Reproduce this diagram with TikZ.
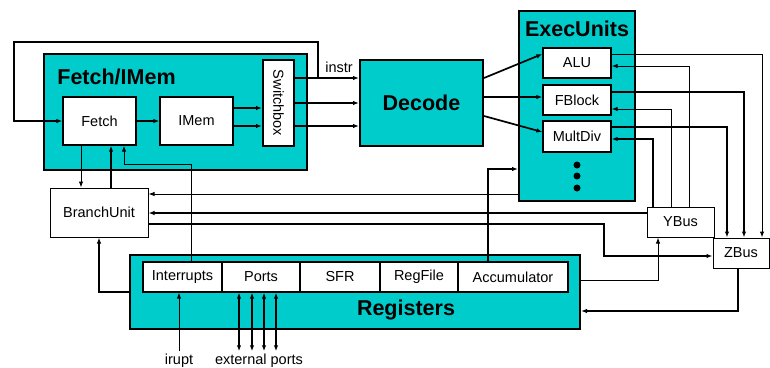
\documentclass[tikz,border=0pt]{standalone}
\usepackage{fontspec}
\setmainfont{Liberation Sans}
\usepackage{graphicx}
\usetikzlibrary{arrows.meta}
\definecolor{tealfill}{RGB}{0,204,204}
\newcommand{\lblfont}{\fontsize{14.5}{17}\selectfont}
\newcommand{\ttlfont}{\fontsize{21.5}{25}\selectfont\bfseries}

\begin{document}
\begin{tikzpicture}[x=1pt,y=-1pt,>={Latex[length=6pt,width=4.5pt]},
  group/.style={draw,line width=2pt,fill=tealfill,inner sep=0pt},
  unit/.style={draw,line width=1.3pt,fill=white,inner sep=0pt,font=\lblfont},
  bus/.style={draw,line width=1pt,fill=white,inner sep=0pt,font=\lblfont},
  fine/.style={line width=1pt},
  wide/.style={line width=1.7pt},
  lbl/.style={font=\lblfont,inner sep=2pt}]
\useasboundingbox (0,0) rectangle (770,367);

%Shape: Fetch/IMem [id:grp1]
\node[group,minimum width=263pt,minimum height=116pt] (fimem) at (175.5,112) {};
\node[font=\ttlfont,inner sep=0pt] (fimemt) at (116.5,77) {Fetch/IMem};
\node[unit,minimum width=73pt,minimum height=48pt] (fetch) at (99.5,121) {Fetch};
\node[unit,minimum width=73pt,minimum height=48pt] (imem) at (196.5,121) {IMem};
\node[unit,line width=2pt,minimum width=31pt,minimum height=86pt] (switch) at (278.5,103) {\rotatebox{-90}{Switchbox}};

%Shape: Decode [id:grp2]
\node[group,font=\ttlfont,minimum width=123pt,minimum height=86pt] (decode) at (421.5,103) {Decode};

%Shape: ExecUnits [id:grp3]
\node[group,minimum width=116pt,minimum height=190pt] (exec) at (577,106) {};
\node[font=\ttlfont,inner sep=0pt] (exect) at (577,28.5) {ExecUnits};
\node[unit,minimum width=68pt,minimum height=30pt] (alu) at (577,63) {ALU};
\node[unit,minimum width=68pt,minimum height=30pt] (fblock) at (577,100) {FBlock};
\node[unit,minimum width=68pt,minimum height=31pt] (multdiv) at (577,136.5) {MultDiv};
\foreach \y in {165,176,188} \fill (577,\y) circle (3.5pt);

%Shape: Registers [id:grp4]
\node[group,minimum width=450pt,minimum height=74pt] (regs) at (355,292) {};
\node[font=\ttlfont,inner sep=0pt] (regst) at (406,310) {Registers};
\node[unit,minimum width=79pt,minimum height=30pt] (intr) at (182.5,277) {Interrupts};
\node[unit,minimum width=78pt,minimum height=30pt] (ports) at (261,277) {Ports};
\node[unit,minimum width=80pt,minimum height=30pt] (sfr) at (340,277) {SFR};
\node[unit,minimum width=78pt,minimum height=30pt] (regfile) at (419,277) {RegFile};
\node[unit,minimum width=110pt,minimum height=30pt] (acc) at (513,277) {Accumulator};

%Shape: BranchUnit and buses
\node[bus,minimum width=98pt,minimum height=49pt] (branch) at (99,212.5) {BranchUnit};
\node[bus,minimum width=67pt,minimum height=30pt] (ybus) at (680.5,222) {YBus};
\node[bus,minimum width=56pt,minimum height=30pt] (zbus) at (741,253) {ZBus};

% Text Node
\node[lbl] (instr) at (339,67) {instr};
\node[lbl,anchor=base] (irupt) at (179,364) {irupt};
\node[lbl,anchor=base] (ext) at (259,364) {external ports};

%Straight Lines: fetch path
\draw[wide,->] (fetch) -- (imem);
\draw[wide,->] (imem.east |- 0,108) -- (switch.west |- 0,108);
\draw[wide,->] (imem.east |- 0,126) -- (switch.west |- 0,126);
\draw[wide,->] (switch.east |- 0,78) -- (decode.west |- 0,78);
\draw[wide,->] (switch) -- (decode);
\draw[wide,->] (switch.east |- 0,126) -- (decode.west |- 0,126);
\coordinate (loop) at (318,78);
\draw[wide,->] (loop) |- (14,42) |- (fetch.west);

%Straight Lines: decode to units
\draw[wide,->] (decode.east |- 0,78) -- (alu.west |- 0,54);
\draw[wide,->] (decode.east |- 0,97) -- (fblock.west |- 0,97);
\draw[wide,->] (decode.east |- 0,116) -- (multdiv.west |- 0,132);

%Straight Lines: units to buses
\draw[fine,->] (alu.east |- 0,54) -| (zbus.north -| 762,0);
\draw[wide,->] (fblock.east |- 0,92) -| (zbus.north -| 744,0);
\draw[wide,->] (multdiv.east |- 0,127) -| (zbus.north -| 727,0);
\draw[fine,->] (ybus.north -| 689,0) |- (alu.east |- 0,66);
\draw[fine,->] (ybus.north -| 671,0) |- (fblock.east |- 0,109);
\draw[wide,->] (ybus.north -| 653,0) |- (multdiv.east |- 0,139);

%Straight Lines: branch unit
\draw[fine,->] (fetch.south -| 81,0) -- (branch.north -| 81,0);
\draw[wide,->] (branch.north -| 111,0) -- (fetch.south -| 111,0);
\draw[fine,->] (intr.north -| 191,0) |- (124,164) -- (fetch.south -| 124,0);
\draw[fine,->] (exec.west |- 0,194) -- (branch.east |- 0,194);
\draw[wide,->] (ybus.west |- 0,213) -- (branch.east |- 0,213);
\draw[wide,->] (branch.east |- 0,224) -| (604,256) -- (zbus.west |- 0,256);
\draw[wide,->] (regs.west) -| (branch.south);

%Straight Lines: registers
\draw[wide,->] (acc.north -| 488,0) |- (exec.west |- 0,169);
\draw[fine,->] (regs.east |- 0,280) -| (ybus.south -| 658,0);
\draw[wide,->] (zbus.south -| 738,0) |- (regs.east |- 0,311);
\draw[fine,->] (irupt.north) -- (intr.south -| irupt.north);
\foreach \x in {239,252,264,276}
  \draw[wide,<->] (ports.south -| \x,0) -- (ext.north -| \x,0);

\end{tikzpicture}
\end{document}
